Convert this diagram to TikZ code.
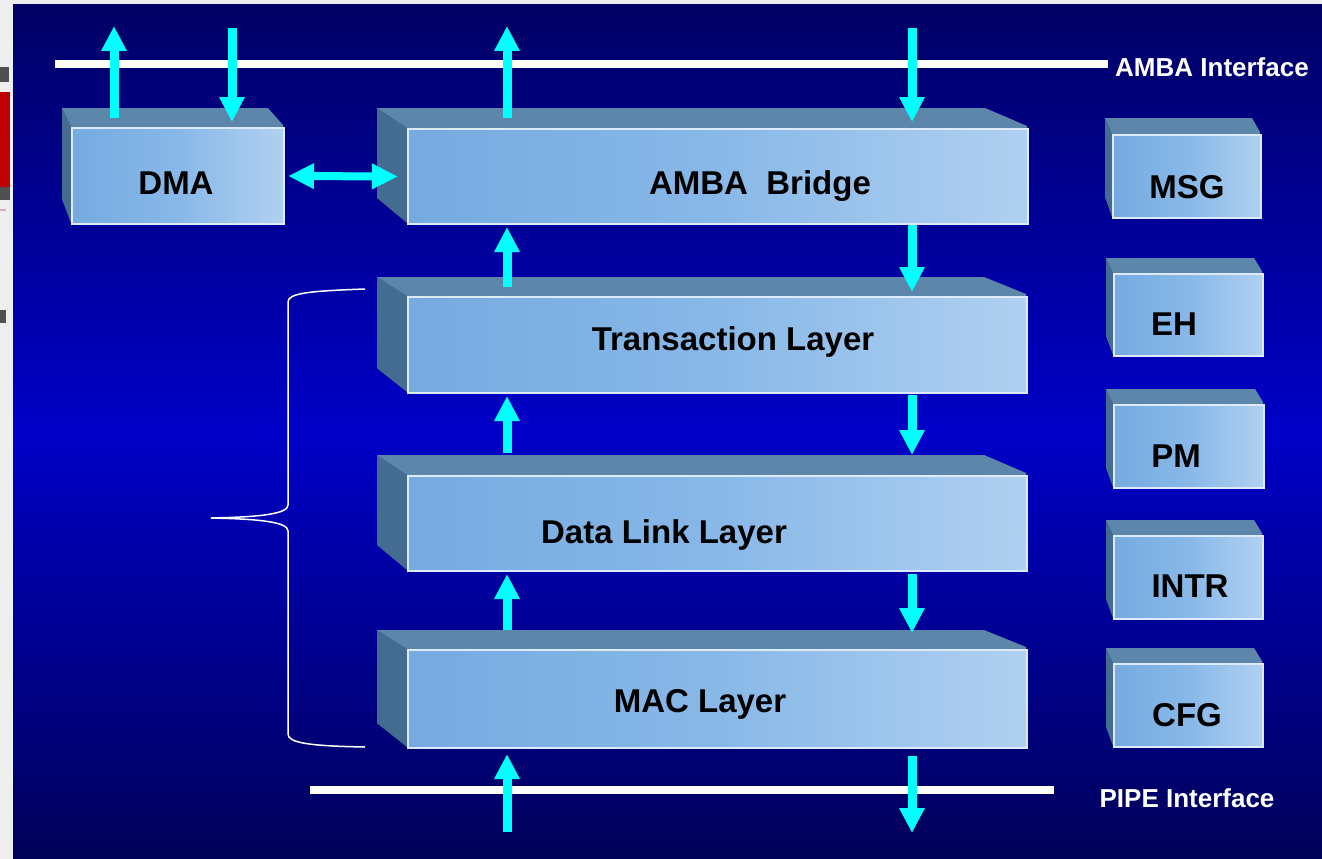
\documentclass[tikz,border=0pt]{standalone}
\usepackage{fontspec}
\setmainfont{Liberation Sans}
\usetikzlibrary{arrows.meta,calc}
\definecolor{bgtop}{RGB}{0,0,100}
\definecolor{bgmid}{RGB}{0,0,200}
\definecolor{bgbot}{RGB}{0,0,88}
\definecolor{acyan}{RGB}{0,255,255}
\definecolor{topfc}{RGB}{92,134,170}
\definecolor{sidefc}{RGB}{68,108,144}
\definecolor{frl}{RGB}{118,170,224}
\definecolor{frm}{RGB}{136,184,232}
\definecolor{frr}{RGB}{176,208,240}
\definecolor{fredge}{RGB}{220,234,250}
\definecolor{stripbg}{RGB}{238,238,238}
\definecolor{stripgray}{RGB}{80,80,80}
\definecolor{stripred}{RGB}{190,0,0}
\definecolor{strippink}{RGB}{220,170,200}
\definecolor{txtshadow}{RGB}{90,70,20}
\newcommand\cubebox[8]{%
  \fill[sidefc] ({#2+#6},{#3+#7}) -- (#2,#3) -- (#2,#5) -- ({#2+#6},{#5+1.25*#7}) -- cycle;
  \fill[topfc] ({#2+#6},{#3+#7}) -- ({#4-#8},{#3+#7}) -- (#4,{#3-2}) -- (#4,#3) -- (#2,#3) -- cycle;
  \node[frontface, minimum width={#4-#2}, minimum height={#5-#3}, anchor=north west] (#1) at (#2,#3) {};
}
\begin{document}
\begin{tikzpicture}[x=1pt,y=-1pt,
  frontface/.style={draw=fredge, line width=2pt, inner sep=0pt, shading=axis,
    left color=frl, right color=frr, middle color=frm},
  lbl/.style={anchor=base, inner sep=0pt, font=\bfseries\fontsize{33}{33}\selectfont, text=black},
  ifl/.style={anchor=base, inner sep=0pt, font=\bfseries\fontsize{26}{26}\selectfont, text=white},
  arr/.style={draw=acyan, line width=9pt, -{Triangle[width=24pt,length=25pt]}},
  darr/.style={draw=acyan, line width=8pt, {Triangle[width=24pt,length=26pt]}-{Triangle[width=24pt,length=26pt]}},
  busline/.style={draw=white, line width=8pt},
  brace/.style={draw=white, line width=1.5pt}]
\useasboundingbox (0,0) rectangle (1322,859);
% page strip
\fill[stripbg] (0,0) rectangle (1322,859);
\fill[stripgray] (0,67) rectangle (9,82);
\fill[stripred] (0,92) rectangle (10,187);
\fill[stripgray] (0,187) rectangle (10,200);
\fill[strippink] (0,209) rectangle (6,211);
\fill[stripgray] (0,310) rectangle (6,323);
% background
\shade[top color=bgtop, bottom color=bgbot, middle color=bgmid] (13,5) rectangle (1322,859);
% interface lines
\draw[busline] (55,64) -- (1108,64);
\draw[busline] (310,790) -- (1054,790);
\node[ifl] (ambaif) at (1212,77) {AMBA Interface};
\node[ifl] (pipeif) at (1187,807) {PIPE Interface};
% boxes
\cubebox{dma}{71}{127}{283}{223}{-9}{-19}{15}
\cubebox{bridge}{407}{128}{1027}{223}{-30}{-20}{42}
\cubebox{trans}{407}{296}{1026}{392}{-30}{-19}{42}
\cubebox{dl}{407}{475}{1026}{570}{-30}{-20}{42}
\cubebox{mac}{407}{649}{1026}{747}{-30}{-19}{42}
\cubebox{msg}{1112}{134}{1260}{217}{-7}{-16}{8}
\cubebox{eh}{1113}{273}{1262}{355}{-7}{-15}{8}
\cubebox{pm}{1113}{404}{1263}{487}{-7}{-15}{8}
\cubebox{intr}{1113}{535}{1262}{618}{-7}{-15}{8}
\cubebox{cfg}{1113}{663}{1262}{746}{-7}{-15}{8}
% labels
\node[lbl] (dmaT) at (176,194.5) {DMA};
\node[lbl] (bridgeT) at (760,194.5) {AMBA\hspace{0.28em} Bridge};
\node[lbl] (transT) at (733,350.5) {Transaction Layer};
\node[lbl] (dlT) at (664,543.5) {Data Link Layer};
\node[lbl] (macT) at (700,712.5) {MAC Layer};
\node[lbl] (msgT) at (1187,198.5) {MSG};
\node[lbl] (ehT) at (1174,335.5) {EH};
\node[lbl] (pmT) at (1176,467.5) {PM};
\node[lbl] (intrT) at (1190,597.5) {INTR};
\node[lbl] (cfgT) at (1187,726.5) {CFG};
% free ends
\coordinate (dmaOut) at (114,26);
\coordinate (dmaIn) at (232,28);
\coordinate (bridgeOut) at (507,26);
\coordinate (bridgeIn) at (912,28);
\coordinate (pipeIn) at (507,832);
\coordinate (pipeOut) at (912,833);
% arrows
\draw[arr] ($(dma.north west)+(43,-9)$) -- (dmaOut);
\draw[arr] (dmaIn) -- ($(dma.north west)+(161,-5)$);
\draw[arr] ($(bridge.north west)+(100,-10)$) -- (bridgeOut);
\draw[arr] (bridgeIn) -- ($(bridge.north west)+(505,-6)$);
\draw[arr] ($(trans.north west)+(100,-9)$) -- ($(bridge.south west)+(100,2)$);
\draw[arr] ($(bridge.south west)+(505,0)$) -- ($(trans.north west)+(505,-4)$);
\draw[arr] ($(dl.north west)+(100,-22)$) -- ($(trans.south west)+(100,2)$);
\draw[arr] ($(trans.south west)+(505,1)$) -- ($(dl.north west)+(505,-20)$);
\draw[arr] ($(mac.north west)+(100,-19)$) -- ($(dl.south west)+(100,2)$);
\draw[arr] ($(dl.south west)+(505,2)$) -- ($(mac.north west)+(505,-16)$);
\draw[arr] (pipeIn) -- ($(mac.south west)+(100,5)$);
\draw[arr] ($(mac.south west)+(505,7)$) -- (pipeOut);
\draw[darr] ($(dma.east)+(3,0)$) -- ($(bridge.west)+(-9,0)$);
% brace
\draw[brace] (365,289) .. controls (310,291) and (288,293) .. (288,302) -- (288,505)
  .. controls (288,514) and (260,517) .. (211,518)
  .. controls (260,519) and (288,522) .. (288,531) -- (288,734)
  .. controls (288,743) and (310,746) .. (365,747);
\end{tikzpicture}
\end{document}
